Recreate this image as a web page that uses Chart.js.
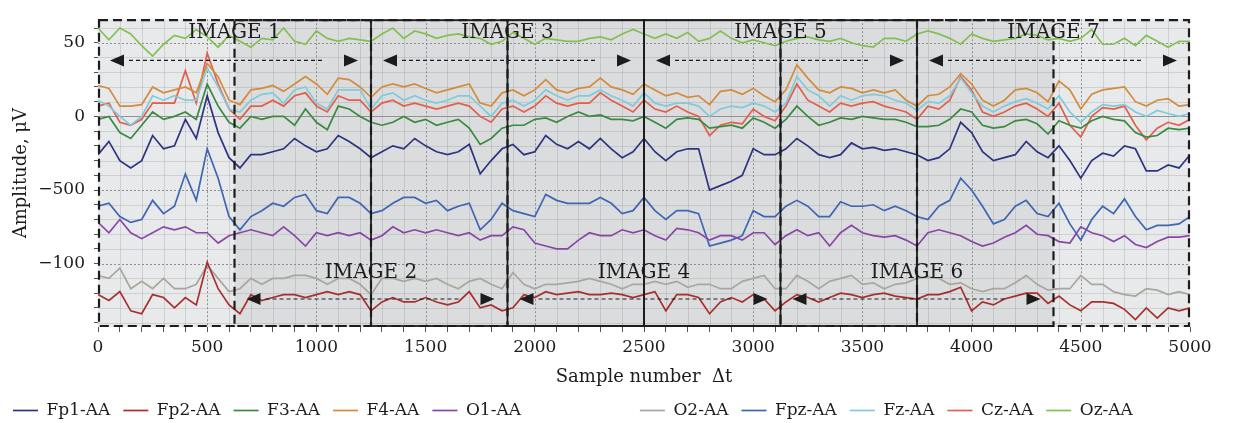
<!DOCTYPE html>
<html lang="en">
<head>
<meta charset="utf-8">
<title>EEG image windows</title>
<script src="https://cdn.jsdelivr.net/npm/chart.js@4.4.1/dist/chart.umd.min.js"></script>
<style>
  html, body { margin: 0; padding: 0; background: #ffffff; }
  canvas { display: block; }
</style>
</head>
<body>
<canvas id="graficoEEG" width="1259" height="423"></canvas>
<script>
// sample number of each point (one point every 50 samples)
const muestras = Array.from({ length: 101 }, (_, i) => i * 50);

// values, in µV
const fp1 = [-26, -17, -30, -35, -30, -13, -22, -20, -2, -15, 14, -11, -28, -35, -26, -26, -24,
  -22, -15, -20, -24, -22, -13, -17, -22, -28, -24, -20, -22, -15, -20, -24, -26, -24,
  -19, -39, -30, -22, -19, -26, -24, -13, -19, -22, -17, -22, -15, -22, -28, -24,
  -15, -24, -30, -24, -22, -22, -50, -47, -44, -40, -22, -26, -26, -22, -15, -20, -26,
  -28, -26, -18, -22, -21, -23, -22, -24, -26, -30, -28, -22, -4, -11, -24, -30,
  -28, -26, -17, -24, -28, -20, -30, -42, -30, -25, -27, -20, -22, -37, -37, -33, -35, -26];
const fp2 = [-121, -125, -119, -132, -134, -121, -123, -130, -123, -128, -99, -117, -128, -134, -121, -125, -123,
  -121, -121, -123, -121, -119, -121, -119, -121, -132, -126, -123, -126, -126, -123, -126, -128, -126,
  -119, -130, -128, -132, -130, -121, -123, -119, -121, -120, -119, -121, -121, -120, -121, -123,
  -121, -119, -132, -121, -121, -123, -134, -126, -123, -126, -121, -124, -132, -126, -121, -123, -126,
  -123, -120, -121, -123, -121, -120, -122, -123, -124, -121, -121, -119, -116, -132, -126, -128,
  -124, -122, -120, -120, -127, -122, -128, -132, -126, -126, -127, -131, -138, -130, -137, -130, -132, -130];
const f3 = [-2, 0, -11, -15, -6, 3, -2, 0, 3, -2, 22, 7, -4, -8, 0, -2, 0,
  0, -6, 5, -4, -9, 7, 5, 0, -4, -6, -4, 0, -4, -2, -6, -4, -2,
  -8, -19, -15, -8, -6, -6, -2, -1, -4, 0, 3, 0, 1, -2, -2, -3,
  0, -4, -8, -2, -1, -2, -8, -7, -6, -8, -1, -4, -8, -2, 7, 0, -6,
  -4, -1, -2, 0, -1, -2, -2, -4, -7, -7, -6, -2, 5, 3, -6, -8,
  -7, -3, -2, -5, -12, -3, -6, -8, -3, 0, -2, -3, -11, -14, -13, -8, -9, -8];
const f4 = [21, 19, 7, 7, 8, 20, 16, 18, 20, 16, 36, 27, 11, 8, 18, 19, 21,
  17, 22, 27, 22, 15, 26, 25, 20, 13, 20, 22, 20, 22, 19, 16, 18, 20,
  22, 9, 7, 16, 18, 14, 18, 25, 18, 16, 19, 20, 26, 20, 18, 15,
  22, 18, 14, 16, 13, 14, 8, 17, 18, 15, 19, 14, 10, 18, 35, 26, 18,
  16, 20, 19, 16, 18, 16, 18, 11, 7, 14, 15, 20, 29, 22, 11, 7,
  11, 18, 19, 16, 10, 24, 18, 5, 15, 18, 19, 20, 10, 7, 11, 12, 7, 8];
const o1 = [-72, -79, -70, -79, -83, -79, -75, -77, -75, -79, -79, -86, -81, -79, -77, -79, -81,
  -75, -81, -88, -79, -81, -79, -81, -79, -84, -81, -75, -79, -77, -79, -77, -79, -81,
  -79, -84, -81, -81, -75, -77, -86, -88, -90, -90, -84, -79, -81, -81, -77, -79,
  -77, -81, -84, -76, -77, -79, -84, -81, -81, -84, -79, -79, -87, -81, -77, -81, -79,
  -88, -79, -74, -79, -81, -82, -81, -84, -88, -79, -77, -79, -81, -85, -88, -86,
  -82, -79, -74, -80, -81, -85, -86, -75, -79, -81, -85, -81, -87, -89, -85, -82, -82, -81];
const o2 = [-108, -110, -103, -117, -112, -117, -110, -117, -117, -114, -101, -110, -119, -117, -110, -114, -110,
  -110, -108, -108, -110, -114, -110, -110, -114, -121, -110, -110, -112, -110, -112, -110, -114, -117,
  -112, -110, -114, -117, -106, -114, -117, -114, -114, -113, -112, -110, -112, -114, -117, -114,
  -114, -112, -114, -112, -116, -114, -114, -117, -117, -112, -110, -108, -117, -117, -108, -112, -117,
  -112, -110, -108, -114, -113, -117, -114, -113, -110, -109, -110, -114, -113, -117, -119, -117,
  -117, -113, -108, -114, -118, -117, -117, -108, -114, -114, -119, -121, -122, -117, -118, -121, -119, -121];
const fpz = [-61, -59, -68, -72, -70, -57, -66, -61, -39, -57, -22, -42, -68, -77, -68, -64, -59,
  -61, -55, -53, -64, -66, -55, -55, -59, -66, -64, -59, -55, -55, -59, -57, -64, -61,
  -59, -77, -70, -59, -64, -66, -68, -53, -57, -59, -59, -59, -55, -59, -66, -64,
  -55, -64, -70, -64, -64, -66, -88, -86, -84, -81, -64, -68, -68, -61, -57, -61, -68,
  -68, -58, -61, -61, -60, -64, -61, -64, -68, -70, -61, -57, -42, -50, -61, -73,
  -70, -61, -57, -66, -68, -59, -73, -84, -70, -61, -66, -56, -68, -77, -74, -74, -73, -68];
const fz = [11, 7, 0, -6, 0, 14, 11, 14, 11, 11, 33, 20, 5, 3, 11, 15, 16,
  9, 18, 20, 9, 5, 18, 18, 18, 5, 14, 16, 11, 14, 11, 9, 11, 14,
  14, 7, 0, 9, 11, 7, 11, 18, 14, 11, 14, 14, 18, 14, 11, 7,
  16, 9, 7, 9, 9, 7, 0, 5, 7, 6, 9, 7, 3, 9, 27, 18, 14,
  7, 14, 11, 14, 15, 14, 11, 9, 4, 10, 9, 14, 26, 16, 7, 3,
  7, 10, 12, 9, 5, 14, 3, -4, 3, 8, 7, 8, 3, 0, 4, 2, 0, 2];
const cz = [7, 9, -4, -6, -2, 9, 9, 9, 31, 9, 43, 22, 5, -2, 7, 7, 11,
  7, 14, 16, 7, 3, 14, 11, 11, 3, 9, 11, 7, 9, 7, 5, 7, 9,
  7, 0, -4, 5, 7, 3, 7, 14, 9, 7, 9, 9, 16, 11, 7, 3,
  11, 5, 3, 7, 3, 0, -13, -6, -4, -5, 5, 0, -3, 7, 22, 11, 7,
  3, 9, 7, 9, 10, 7, 5, 3, -2, 7, 5, 11, 27, 18, 3, 0,
  3, 7, 9, 5, 0, 9, -6, -14, 0, 6, 5, 7, -6, -16, -8, -4, -6, -2];
const oz = [60, 52, 60, 56, 48, 41, 49, 55, 53, 59, 54, 47, 55, 51, 47, 53, 52,
  60, 51, 49, 58, 53, 51, 53, 52, 51, 56, 60, 53, 58, 56, 53, 55, 56,
  54, 53, 49, 51, 57, 53, 49, 53, 52, 51, 51, 53, 54, 52, 56, 59,
  56, 53, 56, 53, 57, 51, 53, 58, 53, 50, 52, 50, 48, 51, 53, 54, 52,
  51, 53, 50, 48, 47, 53, 53, 51, 56, 58, 56, 53, 49, 56, 53, 51,
  52, 53, 56, 55, 52, 53, 51, 53, 59, 49, 49, 53, 48, 55, 51, 47, 51, 51];

const canales = ["Fp1-AA", "Fp2-AA", "F3-AA", "F4-AA", "O1-AA", "O2-AA", "Fpz-AA", "Fz-AA", "Cz-AA", "Oz-AA"];
const valores = [fp1, fp2, f3, f4, o1, o2, fpz, fz, cz, oz];
const colores = ["#2d3580", "#a8302c", "#3a8a42", "#d38b3c", "#8a46a6", "#a9a59f", "#3e66b3", "#80cadb", "#e2604a", "#82c052"];

// labelled ticks
const etiquetasX = [0, 500, 1000, 1500, 2000, 2500, 3000, 3500, 4000, 4500, 5000];
const etiquetasY = { "50": "50", "0": "0", "-50": "\u2212500", "-100": "\u2212100" };

// image windows (start sample), each 1250 samples long
const ventanas = [0, 625, 1250, 1875, 2500, 3125, 3750];
const anchoVentana = 1250;
const nombresVentanas = ["IMAGE 1", "IMAGE 2", "IMAGE 3", "IMAGE 4", "IMAGE 5", "IMAGE 6", "IMAGE 7"];
const ventanasDiscontinuas = [0, 1, 5, 6];
const nivelTexto = { arriba: 57, abajo: -106 };
const nivelFlecha = { arriba: 38, abajo: -124 };

const fuente = "DejaVu Serif";
const tinta = "#1c1c1c";

function flecha(ctx, xl, xr, yy) {
  const punta = 14, media = 6;
  ctx.beginPath();
  ctx.moveTo(xl, yy); ctx.lineTo(xl + punta, yy - media); ctx.lineTo(xl + punta, yy + media);
  ctx.closePath(); ctx.fill();
  ctx.beginPath();
  ctx.moveTo(xr, yy); ctx.lineTo(xr - punta, yy - media); ctx.lineTo(xr - punta, yy + media);
  ctx.closePath(); ctx.fill();
  ctx.lineWidth = 1.2;
  ctx.setLineDash([4, 3]);
  ctx.beginPath();
  ctx.moveTo(xl + punta + 5, yy); ctx.lineTo(xr - punta - 22, yy);
  ctx.stroke();
  ctx.setLineDash([]);
}

const fondoYVentanas = {
  id: "fondoYVentanas",
  beforeDraw(chart) {
    const { ctx, chartArea: a, scales: { x, y } } = chart;
    ctx.save();
    ctx.fillStyle = "#e8e9eb";
    ctx.fillRect(a.left, a.top, a.width, a.height);
    // where two windows overlap the background is darker
    const x0 = x.getPixelForValue(ventanas[1]);
    const x1 = x.getPixelForValue(ventanas[ventanas.length - 2] + anchoVentana);
    ctx.fillStyle = "rgba(0, 0, 0, 0.055)";
    ctx.fillRect(x0, a.top, x1 - x0, a.height);

    // minor grid
    ctx.strokeStyle = "rgba(110, 110, 110, 0.2)";
    ctx.lineWidth = 1;
    ctx.beginPath();
    x.ticks.forEach((t) => {
      if (t.value % 500 !== 0) {
        const px = Math.round(x.getPixelForValue(t.value)) + 0.5;
        ctx.moveTo(px, a.top); ctx.lineTo(px, a.bottom);
      }
    });
    y.ticks.forEach((t) => {
      if (t.value % 50 !== 0) {
        const py = Math.round(y.getPixelForValue(t.value)) + 0.5;
        ctx.moveTo(a.left, py); ctx.lineTo(a.right, py);
      }
    });
    ctx.stroke();

    // major grid, dotted
    ctx.strokeStyle = "#8e8e8e";
    ctx.setLineDash([2, 2]);
    ctx.beginPath();
    x.ticks.forEach((t) => {
      if (t.value % 500 === 0 && t.value > 0 && t.value < 5000) {
        const px = Math.round(x.getPixelForValue(t.value)) + 0.5;
        ctx.moveTo(px, a.top); ctx.lineTo(px, a.bottom);
      }
    });
    y.ticks.forEach((t) => {
      if (t.value % 50 === 0 && t.value !== 0) {
        const py = Math.round(y.getPixelForValue(t.value)) + 0.5;
        ctx.moveTo(a.left, py); ctx.lineTo(a.right, py);
      }
    });
    ctx.stroke();
    ctx.setLineDash([]);
    // zero line
    ctx.strokeStyle = "#929292";
    const p0 = Math.round(y.getPixelForValue(0)) + 0.5;
    ctx.beginPath(); ctx.moveTo(a.left, p0); ctx.lineTo(a.right, p0); ctx.stroke();
    ctx.restore();
  },
  afterDatasetsDraw(chart) {
    const { ctx, chartArea: a, scales: { x, y } } = chart;
    ctx.save();
    ctx.strokeStyle = tinta;
    ctx.fillStyle = tinta;
    // dashed windows first, solid ones on top
    const orden = [0, 1, 5, 6, 2, 3, 4];
    orden.forEach((i) => {
      const discontinua = ventanasDiscontinuas.includes(i);
      const xl = Math.max(x.getPixelForValue(ventanas[i]), a.left + 1);
      const xr = Math.min(x.getPixelForValue(ventanas[i] + anchoVentana), a.right - 1);
      ctx.lineWidth = discontinua ? 2.2 : 1.8;
      ctx.setLineDash(discontinua ? [9, 5] : []);
      ctx.strokeRect(xl, a.top + 1, xr - xl, a.height - 2);
    });
    ctx.setLineDash([]);
    ctx.font = "20px '" + fuente + "'";
    ctx.textAlign = "center";
    ctx.textBaseline = "middle";
    ventanas.forEach((v, i) => {
      const arriba = i % 2 === 0;
      const izq = x.getPixelForValue(v);
      const der = x.getPixelForValue(v + anchoVentana);
      flecha(ctx, izq + 12, der - 13, y.getPixelForValue(arriba ? nivelFlecha.arriba : nivelFlecha.abajo));
      ctx.fillText(nombresVentanas[i], (izq + der) / 2, y.getPixelForValue(arriba ? nivelTexto.arriba : nivelTexto.abajo));
    });
    ctx.restore();
  },
};

const ctx = document.getElementById("graficoEEG").getContext("2d");
new Chart(ctx, {
  type: "line",
  data: {
    datasets: canales.map((nombre, i) => ({
      label: nombre,
      data: muestras.map((m, j) => ({ x: m, y: valores[i][j] })),
      borderColor: colores[i],
      backgroundColor: colores[i],
      borderWidth: 1.7,
      pointRadius: 0,
      tension: 0,
    })),
  },
  options: {
    responsive: false,
    animation: false,
    devicePixelRatio: 1,
    layout: { padding: { top: 10, bottom: -6, left: 0, right: 0 } },
    plugins: {
      tooltip: { enabled: false },
      legend: {
        position: "bottom",
        align: "start",
        labels: {
          usePointStyle: true,
          pointStyle: "line",
          pointStyleWidth: 25,
          padding: 13,
          color: tinta,
          font: { family: fuente, size: 17 },
          generateLabels(chart) {
            const items = Chart.defaults.plugins.legend.labels.generateLabels(chart);
            // blank gap between the two groups of channels
            items.splice(5, 0, {
              text: "           ",
              strokeStyle: "rgba(0,0,0,0)",
              fillStyle: "rgba(0,0,0,0)",
              lineWidth: 0,
              hidden: false,
              pointStyle: "line",
              datasetIndex: -1,
            });
            return items;
          },
        },
      },
    },
    scales: {
      x: {
        type: "linear",
        min: 0,
        max: 5000,
        afterFit: (s) => { s.height = 62; },
        ticks: {
          stepSize: 100,
          autoSkip: false,
          maxRotation: 0,
          padding: 5,
          color: tinta,
          font: { family: fuente, size: 17 },
          callback: (v) => (etiquetasX.includes(v) ? String(v) : ""),
        },
        grid: { drawOnChartArea: false, drawTicks: true, tickLength: 5, tickColor: "#555" },
        border: { display: false },
        title: {
          display: true,
          text: "Sample number  \u0394t",
          color: tinta,
          font: { family: fuente, size: 18 },
          padding: { top: 0, bottom: 1 },
        },
      },
      y: {
        min: -143,
        max: 66,
        afterFit: (s) => { s.width = 98; },
        ticks: {
          stepSize: 10,
          autoSkip: false,
          includeBounds: false,
          padding: 9,
          color: tinta,
          font: { family: fuente, size: 17 },
          callback: (v) => etiquetasY[String(v)] || "",
        },
        grid: { drawOnChartArea: false, drawTicks: true, tickLength: 4, tickColor: "#555" },
        border: { display: false },
        title: {
          display: true,
          text: "Amplitude, \u03bcV",
          color: tinta,
          font: { family: fuente, size: 18 },
          padding: { top: 11, bottom: 0 },
        },
      },
      derecha: {
        position: "right",
        display: true,
        ticks: { display: false },
        grid: { display: false },
        border: { display: false },
        afterFit: (s) => { s.width = 69; },
      },
    },
  },
  plugins: [fondoYVentanas],
});
</script>
</body>
</html>
